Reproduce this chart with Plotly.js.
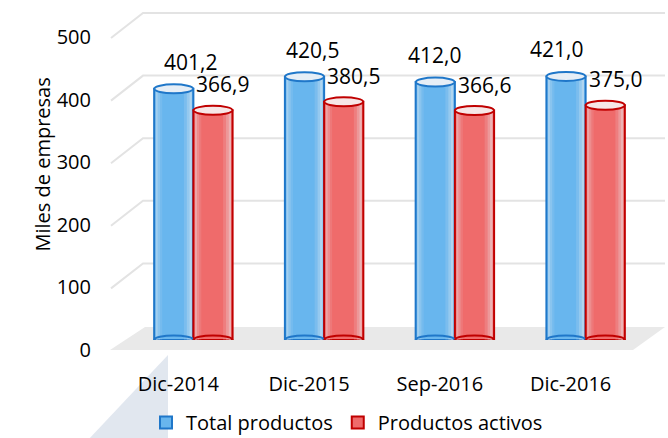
<!DOCTYPE html>
<html>
<head>
<meta charset="utf-8">
<script src="https://cdn.plot.ly/plotly-3.0.1.min.js"></script>
<style>html,body{margin:0;padding:0;background:#fff;}#chart{width:668px;height:438px;}</style>
</head>
<body>
<div id="chart"></div>
<script>
const categories = ["Dic-2014", "Dic-2015", "Sep-2016", "Dic-2016"];
const totalProductos = [401.2, 420.5, 412.0, 421.0];
const productosActivos = [366.9, 380.5, 366.6, 375.0];
const seriesNames = ["Total productos", "Productos activos"];
const yTicks = [0, 100, 200, 300, 400, 500];
const yTickLabels = ["0", "100", "200", "300", "400", "500"];

const FONT = "'Open Sans', 'Noto Sans', sans-serif";
const L = 128, W = 523, T = 27, H = 313;
const px = (x) => (x - L) / W;           // pixel x -> paper
const py = (y) => (T + H - y) / H;       // pixel y -> paper
const scaleY = H / 500;                  // pixels per unit
const yPix = (v) => T + H - v * scaleY;

const blueFill = "#68b6ee", blueLine = "#1f77c9";
const redFill = "#ef6b6b", redLine = "#c00000";

const shapes = [];
// watermark wedge
shapes.push({type: "path", xref: "paper", yref: "paper", layer: "below",
  path: `M ${px(168)} ${py(355)} L ${px(168)} ${py(440)} L ${px(88)} ${py(440)} Z`,
  fillcolor: "rgba(180,196,216,0.4)", line: {width: 0}});
// floor
shapes.push({type: "path", xref: "paper", yref: "paper", layer: "below",
  path: `M ${px(110)} ${py(350)} L ${px(145)} ${py(327)} L ${px(665)} ${py(327)} L ${px(633)} ${py(350)} Z`,
  fillcolor: "#e9e9e9", line: {width: 0}});
// perspective gridlines
yTicks.filter(v => v > 0).forEach(v => {
  const front = yPix(v) + 11, back = yPix(v) - 14;
  shapes.push({type: "path", xref: "paper", yref: "paper", layer: "below",
    path: `M ${px(111)} ${py(front)} L ${px(143)} ${py(back)} L ${px(665)} ${py(back)}`,
    line: {color: "#e3e3e3", width: 2}});
});

// cylinder shading + ellipses
const barW = 0.3, unitPx = W / 4;
const series = [
  {vals: totalProductos, off: -0.15, fill: blueFill, line: blueLine, top: "#e6eef6"},
  {vals: productosActivos, off: 0.15, fill: redFill, line: redLine, top: "#f6e6e6"}
];
const strips = [[0.0, 0.06, 0.45], [0.06, 0.12, 0.25], [0.12, 0.18, 0.1], [0.78, 0.86, 0.15], [0.86, 0.93, 0.35], [0.93, 1.0, 0.55]];
series.forEach(s => {
  s.vals.forEach((v, i) => {
    const cx = i + s.off, x0 = cx - barW / 2 + 1.5 / unitPx, x1 = cx + barW / 2 - 1.5 / unitPx;
    strips.forEach(([a, b, o]) => {
      shapes.push({type: "rect", xref: "x", yref: "y", layer: "above",
        x0: x0 + (x1 - x0) * a, x1: x0 + (x1 - x0) * b, y0: 0, y1: v,
        fillcolor: `rgba(235,238,242,${o})`, line: {width: 0}});
    });
    shapes.push({type: "circle", xref: "x", yref: "y", xsizemode: "pixel", ysizemode: "pixel",
      xanchor: cx, yanchor: 0, x0: -19.5, x1: 19.5, y0: -4.5, y1: 4.5, layer: "above",
      fillcolor: "rgba(0,0,0,0)", line: {color: s.line, width: 2}});
    shapes.push({type: "circle", xref: "x", yref: "y", xsizemode: "pixel", ysizemode: "pixel",
      xanchor: cx, yanchor: v, x0: -19.5, x1: 19.5, y0: -4.5, y1: 4.5, layer: "above",
      fillcolor: s.top, line: {color: s.line, width: 2}});
  });
});

const annotations = [];
totalProductos.forEach((v, i) => annotations.push({x: i - 0.15, y: v, xref: "x", yref: "y",
  text: v.toFixed(1).replace(".", ","), showarrow: false, xshift: 17 - 9 * i, yshift: 27,
  font: {family: FONT, size: 21, color: "#000"}}));
productosActivos.forEach((v, i) => annotations.push({x: i + 0.15, y: v, xref: "x", yref: "y",
  text: v.toFixed(1).replace(".", ","), showarrow: false, xshift: 10, yshift: 26,
  font: {family: FONT, size: 21, color: "#000"}}));
annotations.push({xref: "paper", yref: "paper", x: px(27), y: py(165), text: "Miles de empresas",
  textangle: -90, showarrow: false, font: {family: FONT, size: 20, color: "#000"}});

const traces = [
  {type: "bar", name: seriesNames[0], x: categories, y: totalProductos,
   marker: {color: blueFill, line: {color: blueLine, width: 2}}, hoverinfo: "none"},
  {type: "bar", name: seriesNames[1], x: categories, y: productosActivos,
   marker: {color: redFill, line: {color: redLine, width: 2}}, hoverinfo: "none"}
];

const layout = {
  width: 668, height: 438,
  margin: {l: L, r: 668 - L - W, t: T, b: 438 - T - H, autoexpand: false},
  paper_bgcolor: "#fff", plot_bgcolor: "rgba(0,0,0,0)",
  barmode: "group", bargap: 0.4, bargroupgap: 0,
  font: {family: FONT, size: 19, color: "#000"},
  xaxis: {type: "category", range: [-0.5, 3.5], showgrid: false, zeroline: false, showline: false,
    ticks: "", ticklabelstandoff: 30, ticklabelshift: -15, tickfont: {family: FONT, size: 20}},
  yaxis: {range: [0, 500], tickvals: yTicks, ticktext: yTickLabels, showgrid: false, zeroline: false,
    showline: false, ticks: "", ticklabelstandoff: 36, ticklabelshift: 10, tickfont: {family: FONT, size: 20}},
  showlegend: true,
  legend: {orientation: "h", x: px(146), y: py(403), xanchor: "left", yanchor: "top",
    font: {family: FONT, size: 20}, itemgap: 36, bgcolor: "rgba(0,0,0,0)"},
  shapes: shapes, annotations: annotations
};

Plotly.newPlot("chart", traces, layout, {displayModeBar: false, staticPlot: true});
</script>
</body>
</html>
